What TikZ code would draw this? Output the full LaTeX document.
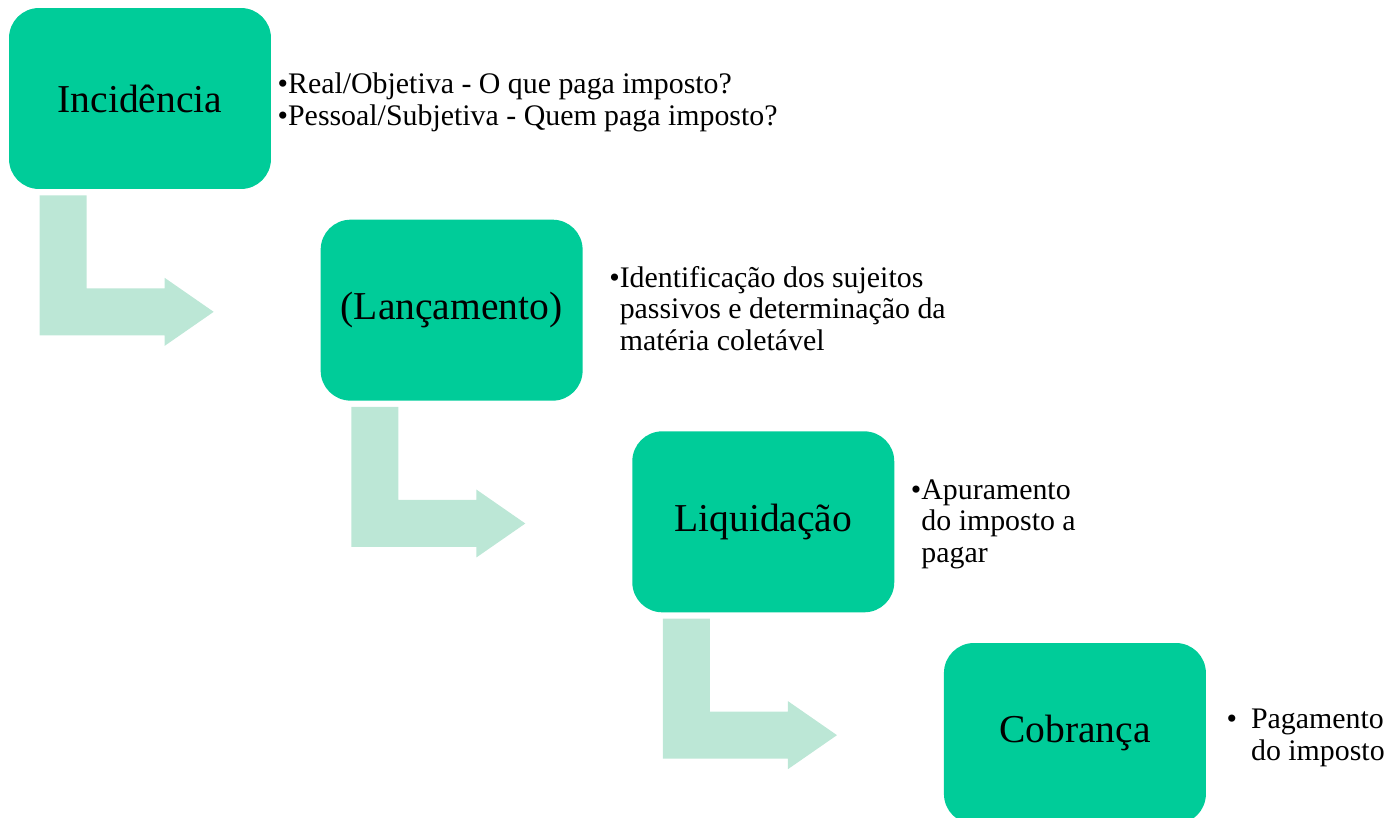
\documentclass[tikz,border=0pt]{standalone}
\usepackage{fontspec}
\setmainfont{Liberation Serif}
\usepackage{xcolor}
\usetikzlibrary{positioning, calc}
\definecolor{stagegreen}{HTML}{00CC99}
\definecolor{bendgreen}{HTML}{BCE7D6}

\begin{document}
\begin{tikzpicture}[
    x=0.02cm, y=-0.02cm,
    node distance=0.6cm and 0.98cm,
    stage/.style={fill=stagegreen, rounded corners=0.6cm, minimum width=5.24cm, minimum height=3.62cm, inner sep=0pt, font=\fontsize{22.5}{27}\selectfont},
    desc/.style={inner sep=0pt, font=\fontsize{17}{18}\selectfont},
    bendarrow/.style={fill=bendgreen}
]
\useasboundingbox (0,0) rectangle (1394,818);

\node[stage] (inc) at (140,98.5) {Incidência};
\node[stage, below right=of inc] (lan) {(Lançamento)};
\node[stage, below right=of lan] (liq) {Liquidação};
\node[stage, below right=of liq] (cob) {Cobrança};

\foreach \a in {inc, lan, liq}
    \fill[bendarrow] ($(\a.south west)+(31,6)$) -- ++(47,0) -- ++(0,93) -- ++(78,0) -- ++(0,-10.5)
        -- ++(49,34) -- ++(-49,34) -- ++(0,-10.5) -- ++(-125,0) -- cycle;

\node[desc, align=left, right=0.12cm of inc, yshift=-0.08cm] (incd) {\textbullet Real/Objetiva - O que paga imposto?\\\textbullet Pessoal/Subjetiva - Quem paga imposto?};
\node[desc, right=0.52cm of lan, yshift=-0.05cm] (land) {\textbullet\begin{tabular}[t]{@{}l@{}}Identificação dos sujeitos\\passivos e determinação da\\matéria coletável\end{tabular}};
\node[desc, right=0.32cm of liq, yshift=-0.05cm] (liqd) {\textbullet\begin{tabular}[t]{@{}l@{}}Apuramento\\do imposto a\\pagar\end{tabular}};
\node[desc, right=0.4cm of cob, yshift=-0.1cm] (cobd) {\textbullet\hspace{8pt}\begin{tabular}[t]{@{}l@{}}Pagamento\\do imposto\end{tabular}};
\end{tikzpicture}
\end{document}
